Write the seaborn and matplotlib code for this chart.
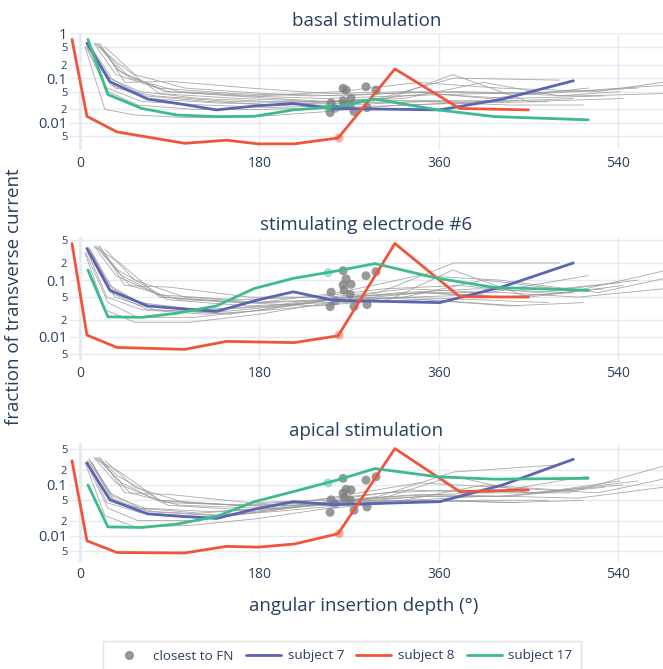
import pandas as pd
import numpy as np
import matplotlib
matplotlib.use("Agg")
import matplotlib.pyplot as plt
from matplotlib.lines import Line2D
from matplotlib.ticker import FixedLocator, FixedFormatter, NullLocator
import seaborn as sns

# --- panel titles ---
panels = ["basal stimulation", "stimulating electrode #6", "apical stimulation"]

# --- highlighted subjects (x in degrees) ---
s7_x = [7, 30, 68, 103, 137, 177, 214, 254, 361, 424, 495]
s7_basal = [0.6, 0.083, 0.034, 0.026, 0.0195, 0.024, 0.027, 0.021, 0.0195, 0.034, 0.087]
s7_e6 = [0.36, 0.066, 0.035, 0.031, 0.028, 0.044, 0.062, 0.044, 0.040, 0.076, 0.2]
s7_apical = [0.27, 0.051, 0.027, 0.024, 0.022, 0.034, 0.047, 0.041, 0.047, 0.1, 0.32]

s8_x = [-8, 7, 37, 105, 147, 179, 215, 259, 316, 381, 450]
s8_basal = [0.73, 0.014, 0.0063, 0.0035, 0.0041, 0.0034, 0.0034, 0.0046, 0.16, 0.021, 0.0195]
s8_e6 = [0.44, 0.0107, 0.0065, 0.006, 0.0083, 0.0081, 0.0079, 0.0104, 0.44, 0.051, 0.05]
s8_apical = [0.30, 0.008, 0.0047, 0.0046, 0.0062, 0.006, 0.0069, 0.011, 0.52, 0.074, 0.08]

s17_x = [8, 28, 62, 97, 137, 175, 214, 258, 296, 359, 416, 510]
s17_basal = [0.73, 0.043, 0.021, 0.015, 0.0138, 0.014, 0.0195, 0.023, 0.034, 0.0195, 0.0138, 0.0117]
s17_e6 = [0.15, 0.0225, 0.022, 0.026, 0.035, 0.071, 0.107, 0.145, 0.195, 0.107, 0.074, 0.066]
s17_apical = [0.1, 0.015, 0.0146, 0.017, 0.024, 0.047, 0.074, 0.125, 0.21, 0.145, 0.13, 0.135]

# closest-to-FN electrode of the highlighted subjects: x, basal, e6, apical
s7_fn = [256, 0.021, 0.043, 0.042]
s8_fn = [260, 0.0046, 0.0107, 0.011]
s17_fn = [249, 0.022, 0.135, 0.11]

# --- other subjects (thin gray lines) ---
gray_x = [
    [12, 35, 75, 150, 230, 300, 375, 481],
    [8, 30, 60, 120, 190, 260, 340, 420, 495],
    [15, 40, 80, 160, 240, 310, 374, 450, 545],
    [5, 25, 55, 110, 180, 250, 320, 400, 470],
    [20, 45, 90, 170, 250, 330, 410, 510],
    [10, 33, 65, 130, 200, 270, 350, 430, 526],
    [18, 38, 85, 165, 245, 320, 400, 490, 590],
    [6, 28, 58, 115, 185, 255, 330, 405],
    [14, 36, 78, 155, 235, 305, 380, 460, 560],
    [22, 50, 100, 180, 260, 340, 420, 520, 600],
    [9, 31, 68, 135, 205, 275, 350, 440],
    [16, 42, 88, 168, 248, 325, 405, 480, 542],
    [7, 27, 62, 125, 195, 265, 345, 430, 505],
    [25, 55, 105, 185, 265, 345, 425, 500, 585],
]
gray_basal = [
    [0.45, 0.06, 0.04, 0.03, 0.028, 0.035, 0.1, 0.09],
    [0.5, 0.1, 0.05, 0.035, 0.03, 0.03, 0.032, 0.03, 0.035],
    [0.6, 0.2, 0.045, 0.035, 0.03, 0.035, 0.12, 0.03, 0.035],
    [0.5, 0.02, 0.015, 0.013, 0.014, 0.018, 0.025, 0.028, 0.03],
    [0.6, 0.08, 0.085, 0.06, 0.045, 0.05, 0.035, 0.06],
    [0.55, 0.09, 0.04, 0.03, 0.025, 0.03, 0.045, 0.035, 0.04],
    [0.6, 0.15, 0.05, 0.04, 0.035, 0.04, 0.045, 0.05, 0.07],
    [0.5, 0.05, 0.025, 0.02, 0.02, 0.022, 0.025, 0.03],
    [0.6, 0.12, 0.06, 0.045, 0.04, 0.045, 0.05, 0.045, 0.06],
    [0.45, 0.1, 0.05, 0.04, 0.05, 0.08, 0.06, 0.05, 0.09],
    [0.55, 0.07, 0.035, 0.028, 0.025, 0.028, 0.03, 0.032],
    [0.6, 0.13, 0.05, 0.038, 0.03, 0.035, 0.08, 0.04, 0.05],
    [0.5, 0.06, 0.03, 0.025, 0.022, 0.025, 0.03, 0.025, 0.025],
    [0.5, 0.12, 0.06, 0.045, 0.04, 0.05, 0.045, 0.04, 0.045],
]
gray_e6 = [
    [0.3, 0.05, 0.03, 0.025, 0.04, 0.06, 0.2, 0.2],
    [0.35, 0.08, 0.04, 0.03, 0.035, 0.05, 0.06, 0.05, 0.06],
    [0.38, 0.2, 0.05, 0.04, 0.035, 0.045, 0.15, 0.05, 0.08],
    [0.3, 0.03, 0.018, 0.018, 0.025, 0.04, 0.05, 0.045, 0.04],
    [0.4, 0.08, 0.075, 0.05, 0.05, 0.07, 0.06, 0.12],
    [0.35, 0.07, 0.035, 0.03, 0.035, 0.05, 0.06, 0.05, 0.07],
    [0.4, 0.15, 0.05, 0.04, 0.045, 0.06, 0.07, 0.06, 0.15],
    [0.3, 0.04, 0.022, 0.022, 0.03, 0.045, 0.05, 0.055],
    [0.4, 0.12, 0.055, 0.045, 0.05, 0.07, 0.08, 0.06, 0.1],
    [0.3, 0.08, 0.045, 0.04, 0.06, 0.12, 0.1, 0.06, 0.12],
    [0.38, 0.06, 0.03, 0.027, 0.035, 0.05, 0.045, 0.035],
    [0.4, 0.12, 0.045, 0.035, 0.04, 0.05, 0.1, 0.07, 0.09],
    [0.33, 0.05, 0.03, 0.025, 0.03, 0.04, 0.045, 0.035, 0.04],
    [0.35, 0.1, 0.05, 0.04, 0.045, 0.06, 0.06, 0.05, 0.07],
]
gray_apical = [
    [0.28, 0.045, 0.03, 0.025, 0.04, 0.06, 0.18, 0.25],
    [0.3, 0.07, 0.035, 0.028, 0.035, 0.05, 0.065, 0.06, 0.08],
    [0.33, 0.18, 0.05, 0.04, 0.04, 0.06, 0.15, 0.07, 0.1],
    [0.28, 0.025, 0.015, 0.016, 0.022, 0.035, 0.045, 0.05, 0.05],
    [0.35, 0.07, 0.065, 0.045, 0.05, 0.08, 0.07, 0.15],
    [0.3, 0.06, 0.035, 0.03, 0.035, 0.05, 0.06, 0.06, 0.09],
    [0.35, 0.15, 0.045, 0.04, 0.045, 0.06, 0.07, 0.07, 0.25],
    [0.28, 0.035, 0.02, 0.02, 0.03, 0.045, 0.05, 0.06],
    [0.35, 0.11, 0.05, 0.04, 0.05, 0.07, 0.08, 0.07, 0.12],
    [0.28, 0.07, 0.04, 0.035, 0.06, 0.11, 0.09, 0.07, 0.15],
    [0.33, 0.055, 0.03, 0.025, 0.035, 0.05, 0.05, 0.045],
    [0.35, 0.11, 0.04, 0.032, 0.04, 0.05, 0.1, 0.08, 0.12],
    [0.3, 0.045, 0.028, 0.024, 0.03, 0.04, 0.05, 0.045, 0.05],
    [0.3, 0.09, 0.045, 0.038, 0.045, 0.06, 0.06, 0.055, 0.09],
]

# closest-to-FN electrode of the other subjects
fn_x = [264, 287, 297, 267, 264, 272, 265, 252, 271, 251, 275, 288]
fn_basal = [0.059, 0.064, 0.054, 0.054, 0.031, 0.035, 0.026, 0.028, 0.024, 0.017, 0.018, 0.022]
fn_e6 = [0.146, 0.119, 0.14, 0.105, 0.082, 0.084, 0.066, 0.061, 0.056, 0.034, 0.034, 0.037]
fn_apical = [0.135, 0.125, 0.145, 0.082, 0.069, 0.08, 0.057, 0.051, 0.051, 0.029, 0.032, 0.037]

# --- style ---
TXT = "#2a3f5f"
GRID = "#E6EAF2"
C7, C8, C17 = "#5C64B4", "#EF553B", "#3CBB8C"
sns.set_style("white")
plt.rcParams["font.family"] = ["Open Sans", "DejaVu Sans"]

fig = plt.figure(figsize=(6.63, 6.69), dpi=100)
W, H = 663.0, 669.0
# axes boxes in pixels: (top, bottom)
boxes = [(33.3, 150.0), (236.7, 360.0), (443.3, 561.7)]
ylims = [(0.00248, 1.0), (0.0039, 0.58), (0.0031, 0.66)]
left_px = 70.0

subj_y = [(s7_basal, s8_basal, s17_basal),
          (s7_e6, s8_e6, s17_e6),
          (s7_apical, s8_apical, s17_apical)]
gray_y = [gray_basal, gray_e6, gray_apical]
fn_y = [fn_basal, fn_e6, fn_apical]

tick_vals = [0.005, 0.01, 0.02, 0.05, 0.1, 0.2, 0.5, 1]
tick_txt = ["5", "0.01", "2", "5", "0.1", "2", "5", "1"]
big = {"0.01", "0.1", "1"}

for i, title in enumerate(panels):
    top, bot = boxes[i]
    ax = fig.add_axes([left_px / W, 1 - bot / H, 1 - left_px / W, (bot - top) / H])

    # gray subject lines
    rows = []
    for k, (xs, ys) in enumerate(zip(gray_x, gray_y[i])):
        for xv, yv in zip(xs, ys):
            rows.append({"subject": k, "x": xv, "y": yv})
    gdf = pd.DataFrame(rows)
    sns.lineplot(data=gdf, x="x", y="y", units="subject", estimator=None,
                 color="#9a9a9a", lw=0.6, alpha=0.85, ax=ax, legend=False)

    # closest to FN markers
    fdf = pd.DataFrame({"x": fn_x, "y": fn_y[i]})
    sns.scatterplot(data=fdf, x="x", y="y", color="#808080", s=42, alpha=0.8,
                    edgecolor="none", ax=ax, legend=False, zorder=4)

    # highlighted subjects
    sy7, sy8, sy17 = subj_y[i]
    hdf = pd.concat([
        pd.DataFrame({"x": s7_x, "y": sy7, "subject": "subject 7"}),
        pd.DataFrame({"x": s8_x, "y": sy8, "subject": "subject 8"}),
        pd.DataFrame({"x": s17_x, "y": sy17, "subject": "subject 17"}),
    ])
    sns.lineplot(data=hdf, x="x", y="y", hue="subject", units="subject", estimator=None,
                 palette={"subject 7": C7, "subject 8": C8, "subject 17": C17},
                 lw=2.0, ax=ax, legend=False, zorder=5)
    for fn, col in [(s7_fn, C7), (s8_fn, C8), (s17_fn, C17)]:
        ax.scatter([fn[0]], [fn[i + 1]], s=42, color=col, alpha=0.45,
                   edgecolor="none", zorder=6)

    ax.set_yscale("log")
    ax.set_xlim(-10, 585)
    ax.set_ylim(*ylims[i])
    ax.yaxis.set_major_locator(FixedLocator(tick_vals))
    ax.yaxis.set_major_formatter(FixedFormatter(tick_txt))
    ax.yaxis.set_minor_locator(NullLocator())
    ax.set_xticks([0, 180, 360, 540])
    ax.set_xticklabels(["0", "180", "360", "540"])
    ax.tick_params(axis="x", length=0, pad=4, labelsize=10, colors=TXT)
    ax.tick_params(axis="y", length=0, pad=2, colors=TXT)
    for lab, v in zip(ax.get_yticklabels(), tick_txt):
        lab.set_fontsize(10.5 if v in big else 8.0)
    ax.grid(True, color=GRID, lw=1.0)
    ax.axvline(0, color=GRID, lw=2.2, zorder=0.5)
    for s in ax.spines.values():
        s.set_visible(False)
    ax.set_xlabel("")
    ax.set_ylabel("")
    ax.set_title(title, fontsize=13.5, color=TXT, pad=5)

fig.text(14 / W, 1 - 297 / H, "fraction of transverse current", rotation=90,
         ha="center", va="center", fontsize=13.5, color=TXT)
fig.text(364 / W, 1 - 606 / H, "angular insertion depth (°)",
         ha="center", va="center", fontsize=13.5, color=TXT)

handles = [
    Line2D([], [], marker="o", ls="none", color="#808080", alpha=0.8, markersize=5.5),
    Line2D([], [], color=C7, lw=2.0),
    Line2D([], [], color=C8, lw=2.0),
    Line2D([], [], color=C17, lw=2.0),
]
labels = ["closest to FN", "subject 7", "subject 8", "subject 17"]
leg = fig.legend(handles, labels, loc="center", bbox_to_anchor=(342 / W, 1 - 656 / H),
                 ncol=4, frameon=True, fancybox=False, edgecolor="#dcdcdc",
                 fontsize=9.7, handlelength=2.6, columnspacing=0.9, handletextpad=0.5,
                 borderpad=0.6)
for t in leg.get_texts():
    t.set_color(TXT)

fig.savefig("out.png", dpi=100)
